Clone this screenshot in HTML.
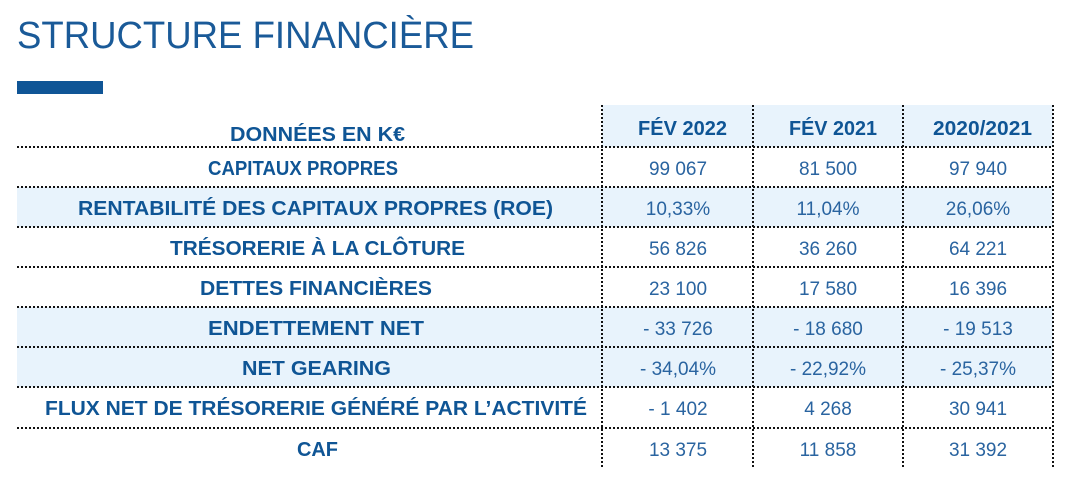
<!DOCTYPE html>
<html><head><meta charset="utf-8"><style>
html,body{margin:0;padding:0;background:#fff;width:1088px;height:488px;overflow:hidden}
svg{display:block}
.t{font-family:"Liberation Sans",sans-serif;fill:#0f5595}
.b{font-weight:bold;font-size:20px}
.v{font-size:19px;fill:#2a64a0}
</style></head><body>
<svg width="1088" height="488" viewBox="0 0 1088 488">
<text class="t" x="17" y="48" font-size="38" textLength="457" lengthAdjust="spacingAndGlyphs" style="fill:#1a5a98">STRUCTURE FINANCIÈRE</text>
<rect x="17" y="81" width="86" height="13" fill="#0f5596"/>
<rect x="602" y="105" width="451" height="42" fill="#e8f3fc"/>
<rect x="17" y="187" width="1036" height="40" fill="#e8f3fc"/>
<rect x="17" y="307" width="1036" height="80" fill="#e8f3fc"/>
<g stroke="#111" stroke-width="2" stroke-dasharray="2 2">
<line x1="17" x2="1053" y1="147" y2="147"/>
<line x1="17" x2="1053" y1="187" y2="187"/>
<line x1="17" x2="1053" y1="227" y2="227"/>
<line x1="17" x2="1053" y1="267" y2="267"/>
<line x1="17" x2="1053" y1="307" y2="307"/>
<line x1="17" x2="1053" y1="347" y2="347"/>
<line x1="17" x2="1053" y1="387" y2="387"/>
<line x1="17" x2="1053" y1="428" y2="428"/>
<line x1="602" x2="602" y1="105" y2="468"/>
<line x1="753" x2="753" y1="105" y2="468"/>
<line x1="903" x2="903" y1="105" y2="468"/>
<line x1="1053" x2="1053" y1="105" y2="468"/>
</g>
<g class="t b">
<text x="230" y="141" textLength="175" lengthAdjust="spacingAndGlyphs">DONNÉES EN K€</text>
<text x="208" y="175" textLength="190" lengthAdjust="spacingAndGlyphs">CAPITAUX PROPRES</text>
<text x="78" y="215" textLength="475" lengthAdjust="spacingAndGlyphs">RENTABILITÉ DES CAPITAUX PROPRES (ROE)</text>
<text x="170" y="255" textLength="295" lengthAdjust="spacingAndGlyphs">TRÉSORERIE À LA CLÔTURE</text>
<text x="200" y="295" textLength="232" lengthAdjust="spacingAndGlyphs">DETTES FINANCIÈRES</text>
<text x="208" y="335" textLength="216" lengthAdjust="spacingAndGlyphs">ENDETTEMENT NET</text>
<text x="242" y="375" textLength="149" lengthAdjust="spacingAndGlyphs">NET GEARING</text>
<text x="45" y="415" textLength="542" lengthAdjust="spacingAndGlyphs">FLUX NET DE TRÉSORERIE GÉNÉRÉ PAR L’ACTIVITÉ</text>
<text x="297" y="456" textLength="41" lengthAdjust="spacingAndGlyphs">CAF</text>
<text x="638" y="135" textLength="89" lengthAdjust="spacingAndGlyphs">FÉV 2022</text>
<text x="789" y="135" textLength="88" lengthAdjust="spacingAndGlyphs">FÉV 2021</text>
<text x="933" y="135" textLength="99" lengthAdjust="spacingAndGlyphs">2020/2021</text>
</g>
<g class="t v" text-anchor="middle">
<text x="678" y="175">99 067</text><text x="828" y="175">81 500</text><text x="978" y="175">97 940</text>
<text x="678" y="215">10,33%</text><text x="828" y="215">11,04%</text><text x="978" y="215">26,06%</text>
<text x="678" y="255">56 826</text><text x="828" y="255">36 260</text><text x="978" y="255">64 221</text>
<text x="678" y="295">23 100</text><text x="828" y="295">17 580</text><text x="978" y="295">16 396</text>
<text x="678" y="335">- 33 726</text><text x="828" y="335">- 18 680</text><text x="978" y="335">- 19 513</text>
<text x="678" y="375">- 34,04%</text><text x="828" y="375">- 22,92%</text><text x="978" y="375">- 25,37%</text>
<text x="678" y="415">- 1 402</text><text x="828" y="415">4 268</text><text x="978" y="415">30 941</text>
<text x="678" y="456">13 375</text><text x="828" y="456">11 858</text><text x="978" y="456">31 392</text>
</g>
</svg>
</body></html>
